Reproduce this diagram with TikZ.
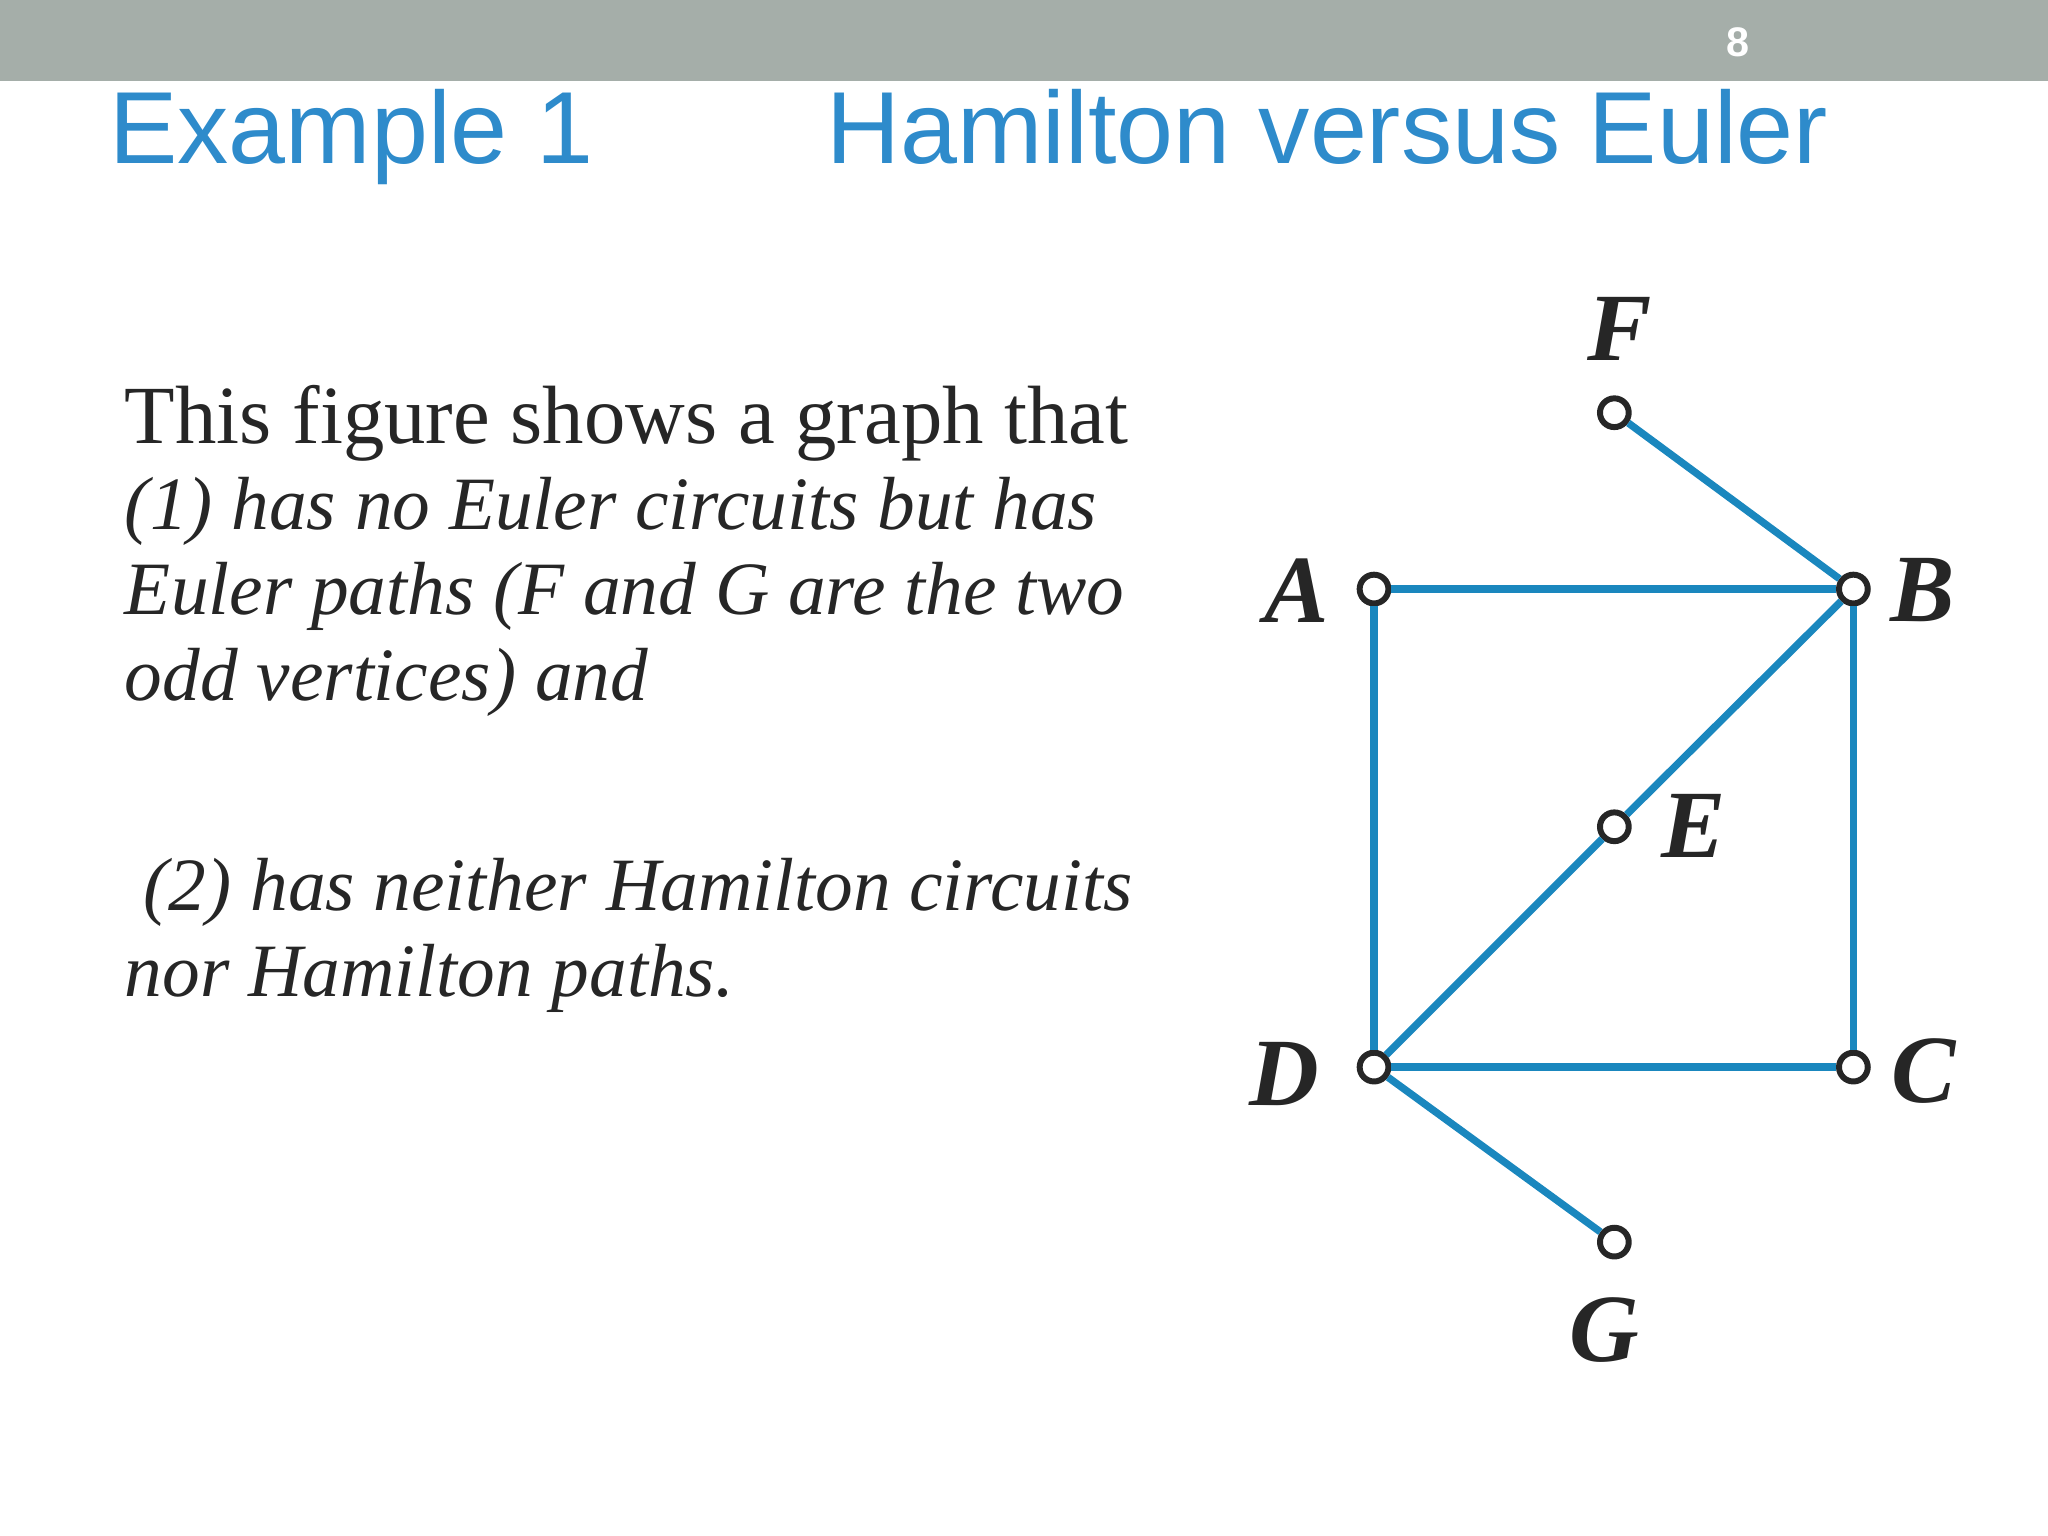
\documentclass[tikz,border=0pt]{standalone}
\usepackage{fontspec}
\setmainfont{Liberation Serif}
\newfontfamily\titlefont{Liberation Sans}
\definecolor{barcol}{RGB}{165,174,169}
\definecolor{edgecol}{RGB}{26,135,190}
\definecolor{titlecol}{RGB}{46,139,203}
\begin{document}
\begin{tikzpicture}[x=0.01cm,y=-0.01cm,
  vtx/.style={circle,draw=black!85,fill=white,line width=1.3pt,minimum size=0.22cm,inner sep=0pt},
  edge/.style={draw=edgecol,line width=1.6pt},
  lbl/.style={font=\fontsize{21}{24}\selectfont\bfseries\itshape,text=black!85},
  ttl/.style={font=\titlefont\fontsize{22.3}{26}\selectfont,text=titlecol,anchor=base west,inner sep=0pt}]
\useasboundingbox (0,0) rectangle (1568,1176);
\fill[barcol] (0,0) rectangle (1568,62);
\node[font=\titlefont\bfseries\fontsize{9}{10}\selectfont,text=white] (pg) at (1331,32) {8};
\node[ttl] (t1) at (83,125) {Example 1};
\node[ttl] (t2) at (632,125) {Hamilton versus Euler};
\node[anchor=north west,inner sep=0pt,align=left,text=black!85,font=\fontsize{16.4}{18.7}\selectfont] (txt) at (95,294) {{\fontsize{18}{18.7}\selectfont This figure shows a graph that}\\
\textit{(1) has no Euler circuits but has}\\
\textit{Euler paths (F and G are the two}\\
\textit{odd vertices) and}\\[27pt]
\textit{\ (2) has neither Hamilton circuits}\\
\textit{nor Hamilton paths.}};
\node[vtx] (A) at (1052,451) {};
\node[vtx] (B) at (1419,451) {};
\node[vtx] (C) at (1419,817) {};
\node[vtx] (D) at (1052,817) {};
\node[vtx] (E) at (1236,633) {};
\node[vtx] (F) at (1236,316) {};
\node[vtx] (G) at (1236,951) {};
\draw[edge] (F)--(B); \draw[edge] (A)--(B); \draw[edge] (A)--(D);
\draw[edge] (B)--(C); \draw[edge] (B)--(E); \draw[edge] (E)--(D);
\draw[edge] (D)--(C); \draw[edge] (D)--(G);
\node[lbl] (lF) at (1240,252) {F};
\node[lbl] (lA) at (993,452) {A};
\node[lbl] (lB) at (1472,452) {B};
\node[lbl] (lE) at (1297,632) {E};
\node[lbl] (lD) at (983,822) {D};
\node[lbl] (lC) at (1473,820) {C};
\node[lbl] (lG) at (1228,1018) {G};
\end{tikzpicture}
\end{document}
